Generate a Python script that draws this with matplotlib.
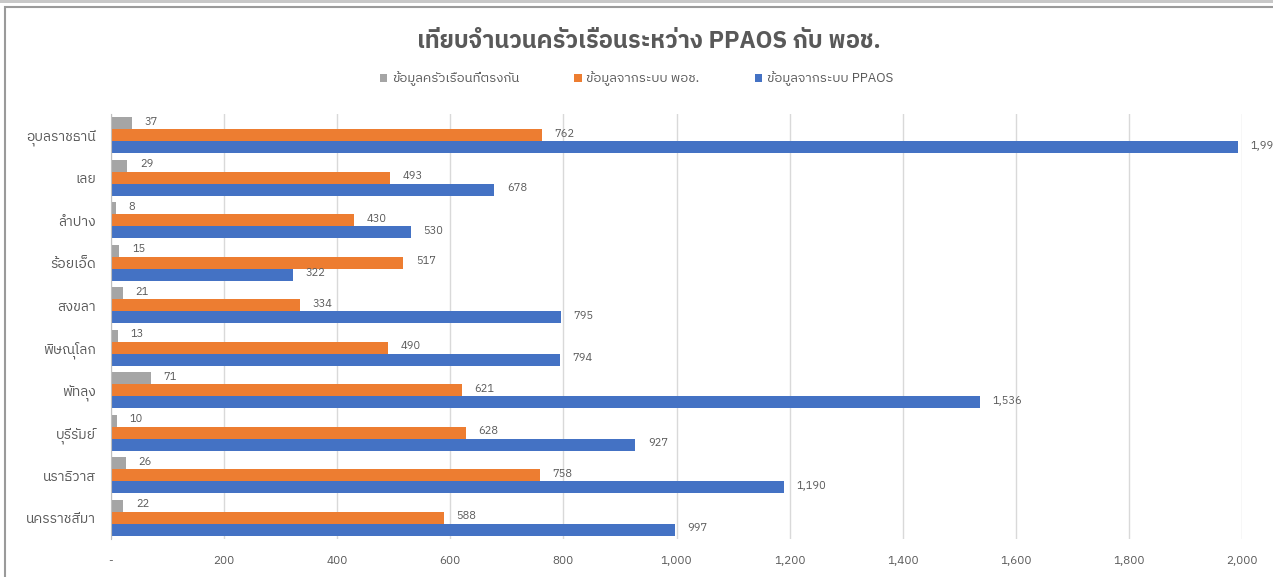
import matplotlib
matplotlib.use("Agg")
import matplotlib.pyplot as plt
from matplotlib import font_manager
from matplotlib.ft2font import FT2Font
from matplotlib.ticker import FuncFormatter
from matplotlib.patches import Rectangle

# data (top to bottom as shown)
provinces = ["อุบลราชธานี", "เลย", "ลำปาง", "ร้อยเอ็ด", "สงขลา",
             "พิษณุโลก", "พัทลุง", "บุรีรัมย์", "นราธิวาส", "นครราชสีมา"]
matched = [37, 29, 8, 15, 21, 13, 71, 10, 26, 22]
from_podsor = [762, 493, 430, 517, 334, 490, 621, 628, 758, 588]
from_ppaos = [1993, 678, 530, 322, 795, 794, 1536, 927, 1190, 997]
series_names = ["ข้อมูลครัวเรือนที่ตรงกัน", "ข้อมูลจากระบบ พอช.", "ข้อมูลจากระบบ PPAOS"]
title = "เทียบจำนวนครัวเรือนระหว่าง PPAOS กับ พอช."


def find_thai_font():
    fonts = sorted(font_manager.fontManager.ttflist,
                   key=lambda f: (0 if "Thai" in f.name else 1, f.name))
    for f in fonts:
        try:
            if FT2Font(f.fname).get_char_index(0x0E01):
                return f.name
        except Exception:
            pass
    return None


thai = find_thai_font()
fams = [thai, "DejaVu Sans"] if thai else ["DejaVu Sans"]
plt.rcParams["font.family"] = fams

text_col = "#595959"
colors = ["#A5A5A5", "#ED7D31", "#4472C4"]

fig = plt.figure(figsize=(12.73, 5.77), dpi=100)
fig.patches.append(Rectangle((0, 0.995), 1, 0.005, transform=fig.transFigure,
                             facecolor="#c8c8c8", edgecolor="none"))
fig.patches.append(Rectangle((0.004, -0.01), 1.0, 0.998, transform=fig.transFigure,
                             facecolor="none", edgecolor="#9a9a9a", lw=1.5))

ax = fig.add_axes([0.0872, 0.0659, 0.8885, 0.7365])

h = 0.28
ys = list(range(len(provinces)))
for k, (vals, c) in enumerate(zip([matched, from_podsor, from_ppaos], colors)):
    pos = [y + (k - 1) * h for y in ys]
    bars = ax.barh(pos, vals, height=h, color=c, label=series_names[k])
    for b, v in zip(bars, vals):
        ax.annotate(f"{v:,}", (b.get_width(), b.get_y() + b.get_height() / 2),
                    xytext=(9, 1), textcoords="offset points",
                    va="center", ha="left", fontsize=8, color=text_col,
                    annotation_clip=False)

ax.set_xlim(0, 2000)
ax.set_ylim(9.5, -0.5)
ax.set_yticks(ys)
ax.set_yticklabels(provinces)
ax.set_xticks(range(0, 2001, 200))
ax.xaxis.set_major_formatter(FuncFormatter(lambda x, p: "-" if x == 0 else f"{int(x):,}"))
ax.tick_params(axis="both", length=0, colors=text_col)
ax.tick_params(axis="x", pad=12, labelsize=8.5)
ax.tick_params(axis="y", pad=11, labelsize=10)
ax.grid(axis="x", color="#d9d9d9", lw=1)
ax.set_axisbelow(True)
for s in ["top", "right", "bottom"]:
    ax.spines[s].set_visible(False)
ax.spines["left"].set_color("#bfbfbf")

fig.text(0.510, 0.928, title, ha="center", va="center", fontsize=17,
         fontweight="bold", color=text_col)
fig.legend(loc="center", bbox_to_anchor=(0.5, 0.863), ncol=3, frameon=False,
           fontsize=9.5, handlelength=0.55, handleheight=0.55, columnspacing=4.2,
           handletextpad=0.35, labelcolor=text_col)

fig.savefig("out.png", dpi=100)
